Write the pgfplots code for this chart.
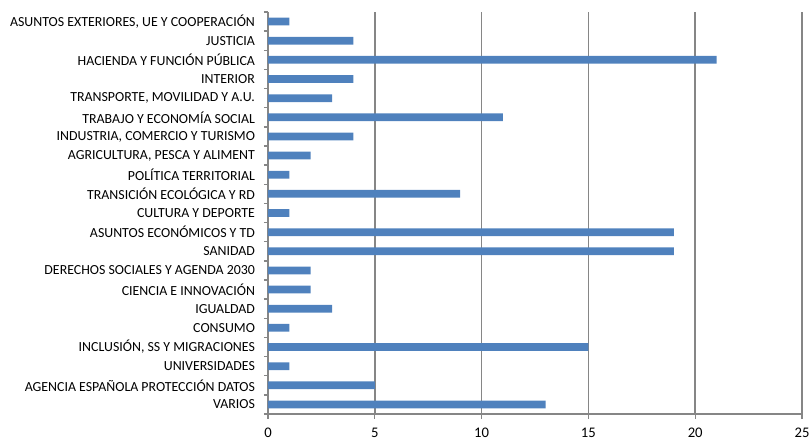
\documentclass[border=0pt]{standalone}
\usepackage{pgfplots}
\pgfplotsset{compat=1.18}
\usepackage{fontspec}
\setmainfont{Carlito}
\definecolor{barblue}{HTML}{4F81BD}
\definecolor{gridgray}{HTML}{868686}
\begin{document}
\begin{tikzpicture}
\begin{axis}[
  at={(0,0)}, anchor=south west,
  scale only axis,
  width=400.5pt, height=301.5pt,
  xbar, bar width=5.8pt,
  xmin=0, xmax=25,
  ymin=-0.5, ymax=20.5,
  axis x line=bottom, axis y line=left,
  axis line style={-, draw=gridgray, line width=1pt},
  xtick={0,5,...,25},
  xmajorgrids, grid style={draw=gridgray, line width=1.3pt},
  major x tick style={draw=gridgray, line width=1pt},
  xtick align=outside,
  major tick length=3.75pt,
  ytick={0,...,20},
  major y tick style={draw=none},
  minor ytick={-0.5,0.5,...,20.5},
  minor y tick style={draw=gridgray, line width=1pt},
  minor tick length=3pt,
  ytick align=outside,
  yticklabels={VARIOS, AGENCIA ESPAÑOLA PROTECCIÓN DATOS, UNIVERSIDADES,
    {INCLUSIÓN, SS Y MIGRACIONES}, CONSUMO, IGUALDAD, CIENCIA E INNOVACIÓN,
    DERECHOS SOCIALES Y AGENDA 2030, SANIDAD, ASUNTOS ECONÓMICOS Y TD,
    CULTURA Y DEPORTE, TRANSICIÓN ECOLÓGICA Y RD, POLÍTICA TERRITORIAL,
    {AGRICULTURA, PESCA Y ALIMENT}, {INDUSTRIA, COMERCIO Y TURISMO},
    TRABAJO Y ECONOMÍA SOCIAL, {TRANSPORTE, MOVILIDAD Y A.U.}, INTERIOR~,
    HACIENDA Y FUNCIÓN PÚBLICA, JUSTICIA~, {ASUNTOS EXTERIORES, UE Y COOPERACIÓN}},
  ticklabel style={font=\fontsize{10.4pt}{12pt}\selectfont, text=black},
  yticklabel style={xshift=-2.5pt},
  xticklabel style={yshift=-3pt, font=\fontsize{11pt}{13pt}\selectfont},
  /pgf/number format/assume math mode=true,
  clip=false,
]
\addplot[fill=barblue, draw=none] coordinates {
  (13,0) (5,1) (1,2) (15,3) (1,4) (3,5) (2,6) (2,7) (19,8) (19,9)
  (1,10) (9,11) (1,12) (2,13) (4,14) (11,15) (3,16) (4,17) (21,18) (4,19) (1,20)
};
\end{axis}
\pgfresetboundingbox
\path (-201pt,-20.25pt) rectangle (405.75pt,310.5pt);
\end{tikzpicture}
\end{document}
